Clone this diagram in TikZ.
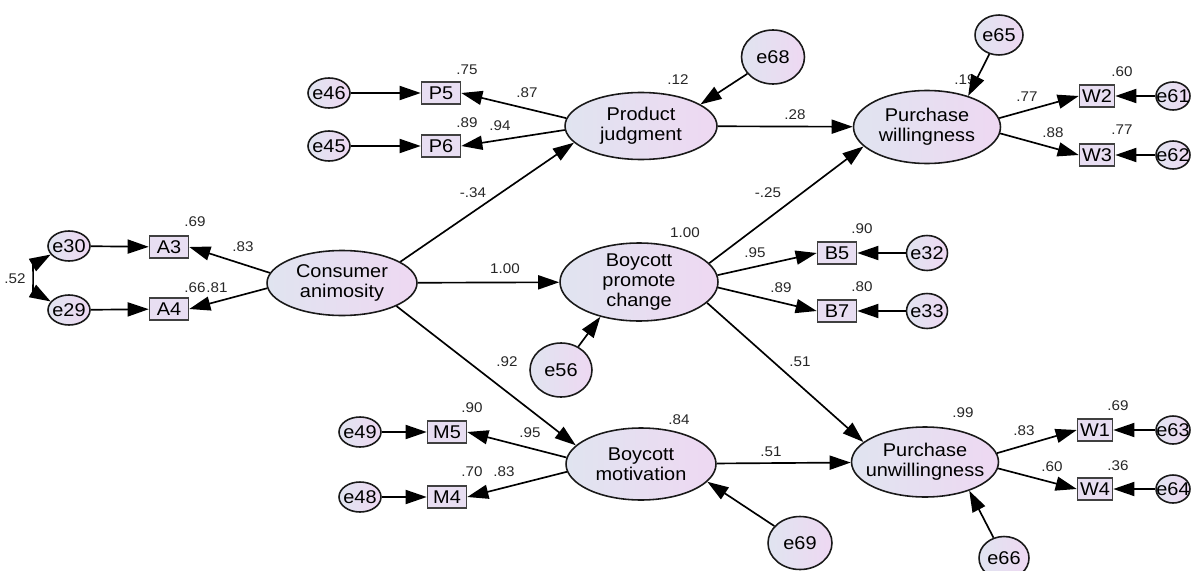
\documentclass[tikz,border=0pt]{standalone}
\usepackage{fontspec}
\setmainfont{Liberation Sans}[FakeStretch=1.08]
\usepackage{tikz}
\usetikzlibrary{positioning}
\usetikzlibrary{shapes.geometric}
\usetikzlibrary{arrows.meta}
\usepackage{xcolor}

\definecolor{latL}{RGB}{224,228,240}
\definecolor{latR}{RGB}{238,216,242}
\definecolor{boxfill}{RGB}{232,222,242}

\tikzset{
  latent/.style={ellipse, draw=black!90, line width=0.9pt, minimum width=3cm,
    minimum height=1.44cm, inner sep=-5pt, align=center, left color=latL,
    right color=latR, font=\fontsize{10.5}{11.3}\selectfont},
  obsbox/.style={rectangle, draw=black!75, line width=0.9pt, fill=boxfill,
    minimum width=0.78cm, minimum height=0.44cm, inner sep=0pt,
    font=\fontsize{10.5}{11}\selectfont},
  errc/.style={ellipse, draw=black!90, line width=0.9pt, left color=latL,
    right color=latR, inner sep=-5pt, minimum width=0.84cm, minimum height=0.6cm,
    font=\fontsize{10.5}{11}\selectfont},
  coef/.style={inner sep=0pt, font=\fontsize{8}{9}\selectfont, text=black!85},
  effect/.style={line width=0.95pt, -{Triangle[length=12pt,width=8pt]}},
}

\begin{document}
\begin{tikzpicture}[x=0.02cm, y=-0.02cm]

\useasboundingbox (0,0) rectangle (1193,571);

% latent variables
\node[latent, minimum height=1.3cm] (CA) at (342,283) {Consumer\\animosity};
\node[latent, minimum width=3.04cm, minimum height=1.34cm] (PJ) at (641,126) {Product\\judgment};
\node[latent, minimum width=3.16cm, minimum height=1.56cm] (BPC) at (639,282) {Boycott\\promote\\change};
\node[latent] (BM) at (641,464) {Boycott\\motivation};
\node[latent, minimum width=2.94cm, minimum height=1.46cm] (PW) at (927,127) {Purchase\\willingness};
\node[latent, minimum width=2.94cm, minimum height=1.4cm] (PU) at (925,462) {Purchase\\unwillingness};

% indicators
\node[obsbox] (A3) at (169,247) {A3};
\node[obsbox] (A4) at (169,309) {A4};
\node[obsbox] (P5) at (441,93) {P5};
\node[obsbox] (P6) at (441,146) {P6};
\node[obsbox] (M5) at (447,432) {M5};
\node[obsbox] (M4) at (447,497) {M4};
\node[obsbox] (B5) at (837,253) {B5};
\node[obsbox] (B7) at (837,311) {B7};
\node[obsbox, minimum width=0.7cm] (W2) at (1097,96) {W2};
\node[obsbox, minimum width=0.7cm] (W3) at (1097,155) {W3};
\node[obsbox, minimum width=0.7cm] (W1) at (1095,430) {W1};
\node[obsbox, minimum width=0.7cm] (W4) at (1095,489) {W4};

% error terms
\node[errc] (e30) at (69,246) {e30};
\node[errc] (e29) at (69,310) {e29};
\node[errc] (e46) at (329,93) {e46};
\node[errc] (e45) at (329,146) {e45};
\node[errc] (e49) at (360,432) {e49};
\node[errc] (e48) at (360,497) {e48};
\node[errc, minimum width=0.82cm, minimum height=0.7cm] (e32) at (927,253) {e32};
\node[errc, minimum width=0.82cm, minimum height=0.7cm] (e33) at (927,311) {e33};
\node[errc, minimum width=0.68cm, minimum height=0.56cm] (e61) at (1173,96) {e61};
\node[errc, minimum width=0.68cm, minimum height=0.56cm] (e62) at (1173,155) {e62};
\node[errc, minimum width=0.68cm, minimum height=0.56cm] (e63) at (1173,430) {e63};
\node[errc, minimum width=0.68cm, minimum height=0.56cm] (e64) at (1173,489) {e64};
\node[errc, minimum width=0.96cm, minimum height=0.8cm] (e65) at (999,35) {e65};
\node[errc, minimum width=1cm, minimum height=0.86cm] (e66) at (1004,558) {e66};
\node[errc, minimum width=1.26cm, minimum height=1.08cm] (e68) at (773,57) {e68};
\node[errc, minimum width=1.24cm, minimum height=1.08cm] (e56) at (561,370) {e56};
\node[errc, minimum width=1.28cm, minimum height=1.06cm] (e69) at (800,543) {e69};

% estimates
\node[coef] (rA3) at (195,222) {.69};
\node[coef] (lA3) at (243,247) {.83};
\node[coef] (rA4) at (195,288) {.66};
\node[coef] (lA4) at (217,288) {.81};
\node[coef] (c52) at (15,279) {.52};
\node[coef] (rP5) at (467,70) {.75};
\node[coef] (rP6) at (467,123) {.89};
\node[coef] (lP5) at (527,93) {.87};
\node[coef] (lP6) at (500,126) {.94};
\node[coef] (rPJ) at (678,80) {.12};
\node[coef] (bPJ) at (473,193) {-.34};
\node[coef] (bBPC) at (505,269) {1.00};
\node[coef] (bBM) at (507,362) {.92};
\node[coef] (bPW1) at (795,115) {.28};
\node[coef] (bPW2) at (768,193) {-.25};
\node[coef] (rPW) at (965,80) {.19};
\node[coef] (rW2) at (1122,72) {.60};
\node[coef] (rW3) at (1122,130) {.77};
\node[coef] (lW2) at (1027,97) {.77};
\node[coef] (lW3) at (1053,133) {.88};
\node[coef] (rBPC) at (685,233) {1.00};
\node[coef] (lB5) at (755,253) {.95};
\node[coef] (lB7) at (781,288) {.89};
\node[coef] (rB5) at (862,229) {.90};
\node[coef] (rB7) at (862,287) {.80};
\node[coef] (bPU1) at (800,362) {.51};
\node[coef] (rM5) at (472,408) {.90};
\node[coef] (rM4) at (472,472) {.70};
\node[coef] (lM5) at (530,433) {.95};
\node[coef] (lM4) at (504,472) {.83};
\node[coef] (rBM) at (679,420) {.84};
\node[coef] (bPU2) at (771,452) {.51};
\node[coef] (rPU) at (963,413) {.99};
\node[coef] (lW1) at (1024,431) {.83};
\node[coef] (lW4) at (1052,467) {.60};
\node[coef] (rW1) at (1118,406) {.69};
\node[coef] (rW4) at (1118,466) {.36};

% measurement arrows
\draw[effect] (CA.172) -- (A3.east);
\draw[effect] (CA.184) -- (A4.east);
\draw[effect] (e30) -- (A3);
\draw[effect] (e29) -- (A4);
\draw[line width=0.95pt, {Triangle[length=12pt,width=8pt]}-{Triangle[length=12pt,width=8pt]}]
  (e30.205) to[out=210,in=150,looseness=1.1] (e29.155);

\draw[effect] (PJ.174) -- (P5.east);
\draw[effect] (PJ.183) -- (P6.east);
\draw[effect] (e46) -- (P5);
\draw[effect] (e45) -- (P6);

\draw[effect] (BM.175) -- (M5.east);
\draw[effect] (BM.186) -- (M4.east);
\draw[effect] (e49) -- (M5);
\draw[effect] (e48) -- (M4);

\draw[effect] (BPC.5) -- (B5.west);
\draw[effect] (BPC.-4) -- (B7.west);
\draw[effect] (e32) -- (B5);
\draw[effect] (e33) -- (B7);

\draw[effect] (PW.7) -- (W2.west);
\draw[effect] (PW.-5) -- (W3.west);
\draw[effect] (e61) -- (W2);
\draw[effect] (e62) -- (W3);

\draw[effect] (PU.7) -- (W1.west);
\draw[effect] (PU.-5) -- (W4.west);
\draw[effect] (e63) -- (W1);
\draw[effect] (e64) -- (W4);

% structural arrows
\draw[effect] (CA.20) -- (PJ.194);
\draw[effect] (CA) -- (BPC);
\draw[effect] (CA.-23) -- (BM.164);
\draw[effect] (PJ) -- (PW);
\draw[effect] (BPC.15) -- (PW.197);
\draw[effect] (BPC.-17) -- (PU.162);
\draw[effect] (BM) -- (PU);

% disturbances
\draw[effect] (e68) -- (PJ.20);
\draw[effect] (e65) -- (PW.37);
\draw[effect] (e56) -- (BPC.222);
\draw[effect] (e69) -- (BM.-15);
\draw[effect] (e66) -- (PU.-33);

\end{tikzpicture}
\end{document}
